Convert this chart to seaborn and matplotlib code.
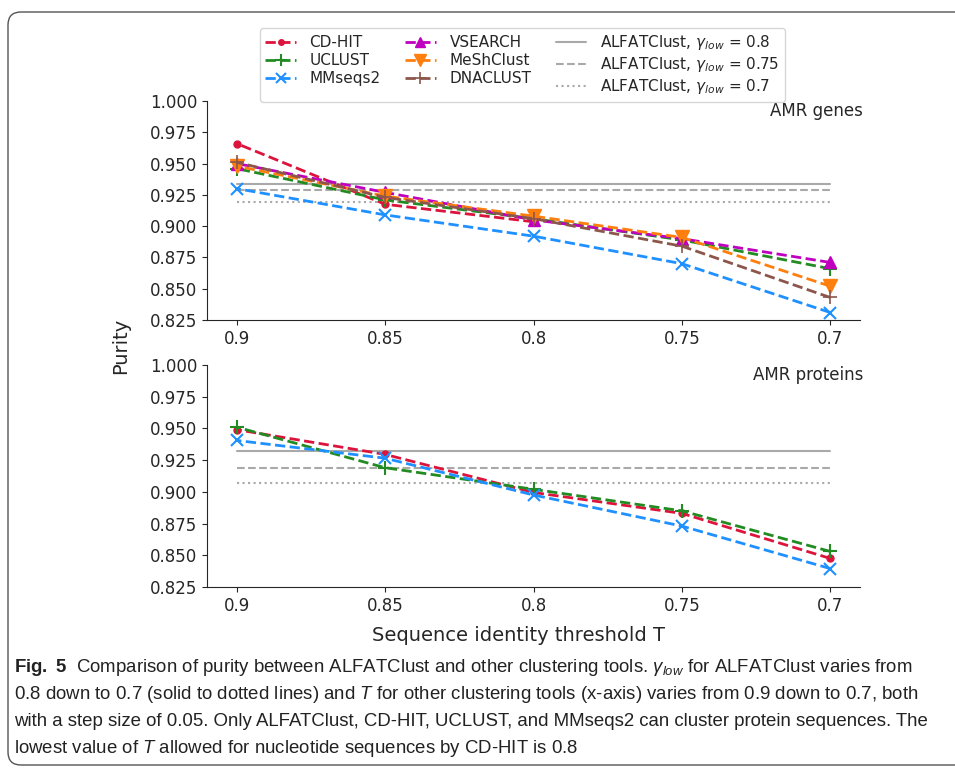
import numpy as np
import pandas as pd
import matplotlib.pyplot as plt
import seaborn as sns
from matplotlib.patches import FancyBboxPatch

sns.set_style("ticks")
plt.rcParams['font.family'] = ['DejaVu Sans']
plt.rcParams['mathtext.rm'] = 'Liberation Sans'
plt.rcParams['mathtext.it'] = 'Liberation Sans:italic'
plt.rcParams['mathtext.bf'] = 'Liberation Sans:bold'

# sequence identity thresholds T
T = [0.9, 0.85, 0.8, 0.75, 0.7]
T_labels = ['0.9', '0.85', '0.8', '0.75', '0.7']

# AMR genes (nucleotide) purity
genes_cdhit = [0.966, 0.9175, 0.9035]          # CD-HIT stops at 0.8
genes_uclust = [0.946, 0.921, 0.906, 0.889, 0.866]
genes_mmseqs = [0.930, 0.909, 0.892, 0.870, 0.831]
genes_vsearch = [0.950, 0.927, 0.905, 0.890, 0.871]
genes_meshclust = [0.948, 0.924, 0.908, 0.891, 0.852]
genes_dnaclust = [0.951, 0.923, 0.906, 0.884, 0.843]
genes_alfat = [0.9335, 0.929, 0.9195]           # gamma_low = 0.8, 0.75, 0.7

# AMR proteins purity
prot_cdhit = [0.949, 0.9295, 0.8995, 0.883, 0.8475]
prot_uclust = [0.951, 0.919, 0.902, 0.885, 0.853]
prot_mmseqs = [0.9405, 0.9265, 0.8975, 0.873, 0.8395]
prot_alfat = [0.932, 0.919, 0.907]

gamma_labels = ['0.8', '0.75', '0.7']
alfat_styles = ['-', '--', ':']

tools = {
    'CD-HIT': dict(color='crimson', marker='o', ms=5),
    'UCLUST': dict(color='forestgreen', marker='+', ms=10, mew=1.5),
    'MMseqs2': dict(color='dodgerblue', marker='x', ms=9, mew=1.5),
    'VSEARCH': dict(color='m', marker='^', ms=9),
    'MeShClust': dict(color='tab:orange', marker='v', ms=10),
    'DNACLUST': dict(color='tab:brown', marker='+', ms=10, mew=1.2),
}

genes = {'CD-HIT': genes_cdhit, 'UCLUST': genes_uclust, 'MMseqs2': genes_mmseqs,
         'VSEARCH': genes_vsearch, 'MeShClust': genes_meshclust, 'DNACLUST': genes_dnaclust}
prots = {'CD-HIT': prot_cdhit, 'UCLUST': prot_uclust, 'MMseqs2': prot_mmseqs}

fig = plt.figure(figsize=(9.55, 7.68), dpi=100)
ax1 = fig.add_axes([0.2168, 0.5833, 0.6837, 0.2852])
ax2 = fig.add_axes([0.2168, 0.2357, 0.6837, 0.2891])


def draw(ax, data, alfat, title):
    for name, vals in data.items():
        st = tools[name]
        sns.lineplot(x=T[:len(vals)], y=vals, ax=ax, color=st['color'], linestyle='--',
                     linewidth=2, marker=st['marker'], markersize=st['ms'],
                     markeredgewidth=st.get('mew', 1), markeredgecolor=st['color'],
                     label=name, legend=False)
    for v, g, ls in zip(alfat, gamma_labels, alfat_styles):
        ax.plot(T, np.full(len(T), v), color='darkgray', linestyle=ls, linewidth=1.5,
                zorder=1.5, label=r'ALFATClust, $\gamma_{low}$ = ' + g)
    ax.set_xlim(0.91, 0.69)
    ax.set_xticks(T)
    ax.set_xticklabels(T_labels)
    ax.set_ylim(0.825, 1.0)
    ax.set_yticks(np.arange(0.825, 1.0001, 0.025))
    ax.set_yticklabels([f'{t:.3f}' for t in np.arange(0.825, 1.0001, 0.025)])
    ax.tick_params(labelsize=12)
    ax.set_xlabel('')
    ax.set_ylabel('')
    ax.text(1.005, 0.954, title, transform=ax.transAxes, ha='right', va='center', fontsize=12)
    sns.despine(ax=ax)


draw(ax1, genes, genes_alfat, 'AMR genes')
draw(ax2, prots, prot_alfat, 'AMR proteins')

handles, labels = ax1.get_legend_handles_labels()
leg = fig.legend(handles, labels, loc='upper center', bbox_to_anchor=(0.547, 0.9635),
                 ncol=3, fontsize=11, handlelength=2.0, columnspacing=1.6,
                 labelspacing=0.2, borderpad=0.35, borderaxespad=0, markerscale=0.8,
                 handletextpad=0.9)

fig.text(0.126, 0.55, 'Purity', rotation=90, ha='center', va='center', fontsize=14)
fig.text(0.543, 0.172, 'Sequence identity threshold T', ha='center', va='center', fontsize=14)

# caption
cap = [
    r'$\mathbf{Fig.\ 5}$  Comparison of purity between ALFATClust and other clustering tools. '
    r'$\mathit{\gamma_{low}}$ for ALFATClust varies from',
    r'0.8 down to 0.7 (solid to dotted lines) and $\mathit{T}$ for other clustering tools (x-axis) '
    r'varies from 0.9 down to 0.7, both',
    'with a step size of 0.05. Only ALFATClust, CD-HIT, UCLUST, and MMseqs2 can cluster '
    'protein sequences. The',
    r'lowest value of $\mathit{T}$ allowed for nucleotide sequences by CD-HIT is 0.8',
]
for i, line in enumerate(cap):
    fig.text(0.0147, 1 - (667 + 27.3 * i) / 768, line, ha='left', va='center', fontsize=13.4,
             family=['Liberation Sans', 'DejaVu Sans'], math_fontfamily='custom',
             color='#222222')

frame = FancyBboxPatch((0.08, 0.03), 10.0, 7.53, boxstyle='round,pad=0,rounding_size=0.13',
                       transform=fig.dpi_scale_trans, facecolor='none', edgecolor='#555555',
                       linewidth=1.0)
fig.patches.append(frame)

fig.savefig('out.png', dpi=100)
